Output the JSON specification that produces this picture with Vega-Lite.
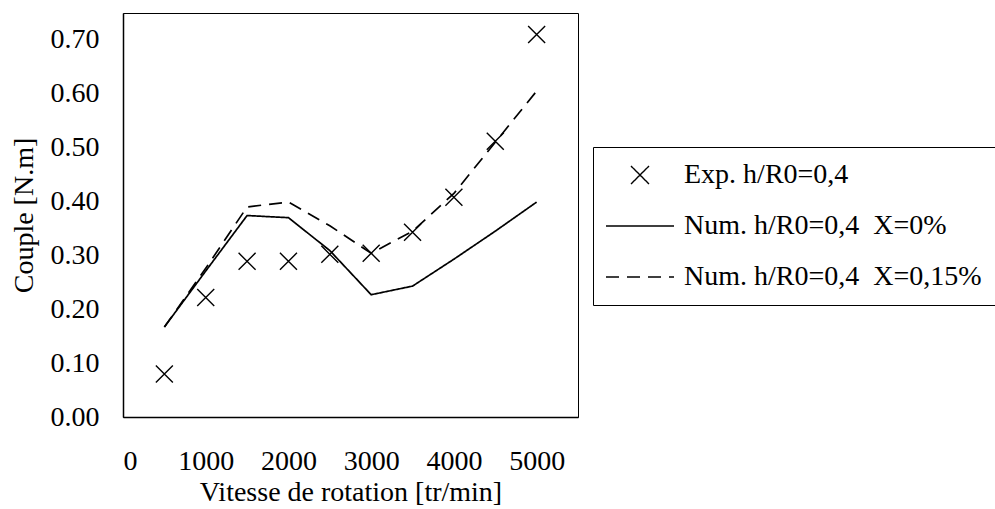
{
  "$schema": "https://vega.github.io/schema/vega-lite/v6.json",
  "width": 455,
  "height": 404,
  "autosize": {"type": "none"},
  "padding": {"left": 123, "top": 13, "right": 417, "bottom": 92},
  "background": "white",
  "config": {
    "font": "Liberation Serif",
    "view": {"stroke": "#000", "strokeWidth": 1},
    "axis": {
      "grid": false,
      "ticks": false,
      "domainColor": "#000",
      "domainWidth": 1.5,
      "labelFont": "Liberation Serif",
      "labelFontSize": 28,
      "labelColor": "#000",
      "titleFont": "Liberation Serif",
      "titleFontSize": 28,
      "titleFontWeight": "normal",
      "titleColor": "#000"
    },
    "legend": {
      "labelFont": "Liberation Serif",
      "labelFontSize": 28,
      "labelColor": "#000",
      "labelLimit": 0
    }
  },
  "datasets": {
    "exp": [
      {"vitesse": 500, "couple": 0.080, "series": "Exp. h/R0=0,4"},
      {"vitesse": 1000, "couple": 0.222, "series": "Exp. h/R0=0,4"},
      {"vitesse": 1500, "couple": 0.289, "series": "Exp. h/R0=0,4"},
      {"vitesse": 2000, "couple": 0.289, "series": "Exp. h/R0=0,4"},
      {"vitesse": 2500, "couple": 0.302, "series": "Exp. h/R0=0,4"},
      {"vitesse": 3000, "couple": 0.304, "series": "Exp. h/R0=0,4"},
      {"vitesse": 3500, "couple": 0.343, "series": "Exp. h/R0=0,4"},
      {"vitesse": 4000, "couple": 0.408, "series": "Exp. h/R0=0,4"},
      {"vitesse": 4500, "couple": 0.512, "series": "Exp. h/R0=0,4"},
      {"vitesse": 5000, "couple": 0.710, "series": "Exp. h/R0=0,4"}
    ],
    "num": [
      {"vitesse": 500, "couple": 0.167, "series": "Num. h/R0=0,4\u00a0 X=0%"},
      {"vitesse": 1000, "couple": 0.271, "series": "Num. h/R0=0,4\u00a0 X=0%"},
      {"vitesse": 1500, "couple": 0.374, "series": "Num. h/R0=0,4\u00a0 X=0%"},
      {"vitesse": 2000, "couple": 0.370, "series": "Num. h/R0=0,4\u00a0 X=0%"},
      {"vitesse": 2500, "couple": 0.309, "series": "Num. h/R0=0,4\u00a0 X=0%"},
      {"vitesse": 3000, "couple": 0.227, "series": "Num. h/R0=0,4\u00a0 X=0%"},
      {"vitesse": 3500, "couple": 0.243, "series": "Num. h/R0=0,4\u00a0 X=0%"},
      {"vitesse": 4000, "couple": 0.293, "series": "Num. h/R0=0,4\u00a0 X=0%"},
      {"vitesse": 4500, "couple": 0.345, "series": "Num. h/R0=0,4\u00a0 X=0%"},
      {"vitesse": 5000, "couple": 0.399, "series": "Num. h/R0=0,4\u00a0 X=0%"},
      {"vitesse": 500, "couple": 0.167, "series": "Num. h/R0=0,4\u00a0 X=0,15%"},
      {"vitesse": 1000, "couple": 0.276, "series": "Num. h/R0=0,4\u00a0 X=0,15%"},
      {"vitesse": 1500, "couple": 0.390, "series": "Num. h/R0=0,4\u00a0 X=0,15%"},
      {"vitesse": 2000, "couple": 0.399, "series": "Num. h/R0=0,4\u00a0 X=0,15%"},
      {"vitesse": 2500, "couple": 0.355, "series": "Num. h/R0=0,4\u00a0 X=0,15%"},
      {"vitesse": 3000, "couple": 0.304, "series": "Num. h/R0=0,4\u00a0 X=0,15%"},
      {"vitesse": 3500, "couple": 0.345, "series": "Num. h/R0=0,4\u00a0 X=0,15%"},
      {"vitesse": 4000, "couple": 0.415, "series": "Num. h/R0=0,4\u00a0 X=0,15%"},
      {"vitesse": 4500, "couple": 0.510, "series": "Num. h/R0=0,4\u00a0 X=0,15%"},
      {"vitesse": 5000, "couple": 0.605, "series": "Num. h/R0=0,4\u00a0 X=0,15%"}
    ],
    "xticks": [
      {"vitesse": 1000}, {"vitesse": 2000}, {"vitesse": 3000}, {"vitesse": 4000}, {"vitesse": 5000}
    ],
    "yticks": [
      {"couple": 0.1}, {"couple": 0.2}, {"couple": 0.3}, {"couple": 0.4}, {"couple": 0.5}, {"couple": 0.6}, {"couple": 0.7}
    ]
  },
  "encoding": {
    "x": {
      "field": "vitesse",
      "type": "quantitative",
      "title": "Vitesse de rotation [tr/min]",
      "scale": {"domain": [0, 5500], "nice": false, "zero": false},
      "axis": {
        "values": [0, 1000, 2000, 3000, 4000, 5000],
        "labelPadding": 30,
        "titlePadding": 3,
        "format": "d"
      }
    },
    "y": {
      "field": "couple",
      "type": "quantitative",
      "title": "Couple [N.m]",
      "scale": {"domain": [0, 0.75], "nice": false, "zero": false},
      "axis": {
        "values": [0, 0.1, 0.2, 0.3, 0.4, 0.5, 0.6, 0.7],
        "format": ".2f",
        "labelPadding": 24,
        "titlePadding": 12
      }
    }
  },
  "layer": [
    {
      "data": {"name": "xticks"},
      "mark": {"type": "rule", "color": "#000", "strokeWidth": 1.3},
      "encoding": {"y": {"datum": 0}, "y2": {"datum": 0.016}}
    },
    {
      "data": {"name": "yticks"},
      "mark": {"type": "rule", "color": "#000", "strokeWidth": 1.3},
      "encoding": {"x": {"datum": 0}, "x2": {"datum": 105}}
    },
    {
      "data": {"name": "num"},
      "mark": {"type": "line", "color": "#000", "strokeWidth": 1.7},
      "encoding": {
        "strokeDash": {
          "field": "series",
          "type": "nominal",
          "scale": {
            "domain": ["Exp. h/R0=0,4", "Num. h/R0=0,4\u00a0 X=0%", "Num. h/R0=0,4\u00a0 X=0,15%"],
            "range": [[1, 0], [1, 0], [13, 8]]
          },
          "legend": {
            "title": null,
            "orient": "none",
            "legendX": 470,
            "legendY": 134,
            "strokeColor": "#000",
            "fillColor": "white",
            "padding": 14,
            "symbolSize": 400,
            "symbolStrokeColor": "#000",
            "symbolStrokeWidth": 1.5,
            "labelOffset": 49,
            "labelLimit": 0,
            "rowPadding": 23,
            "encode": {
              "symbols": {
                "update": {
                  "shape": {"signal": "datum.index === 0 ? 'M-1,-1L1,1M1,-1L-1,1' : 'stroke'"},
                  "size": {"signal": "datum.index === 0 ? 324 : 4624"},
                  "strokeWidth": {"signal": "datum.index === 0 ? 1.4 : 1.7"},
                  "x": {"value": 33},
                  "stroke": {"value": "#000"},
                  "fill": {"value": "transparent"}
                }
              }
            }
          }
        }
      }
    },
    {
      "data": {"name": "exp"},
      "mark": {
        "type": "point",
        "shape": "M-1,-1L1,1M1,-1L-1,1",
        "filled": false,
        "stroke": "#000",
        "strokeWidth": 1.4,
        "opacity": 1,
        "size": 289
      }
    }
  ]
}
